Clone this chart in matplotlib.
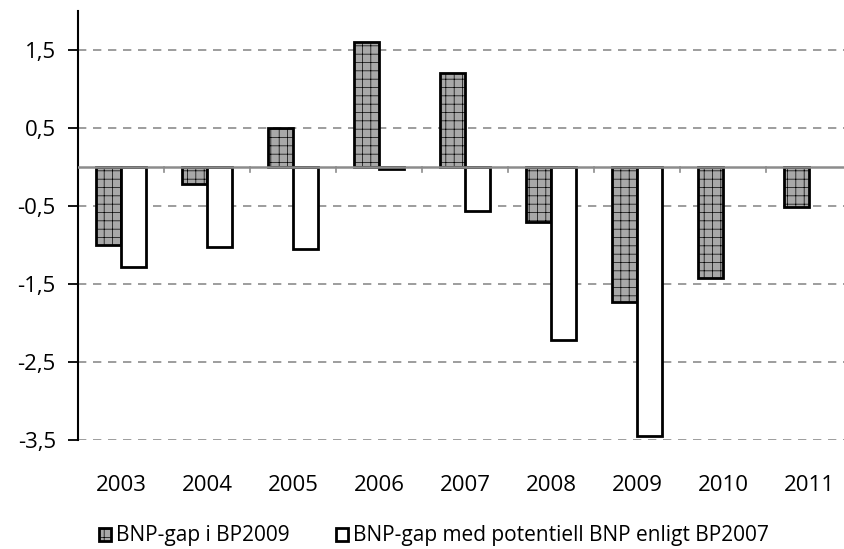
import matplotlib
matplotlib.use('Agg')
import matplotlib.pyplot as plt
import numpy as np

years = ['2003', '2004', '2005', '2006', '2007', '2008', '2009', '2010', '2011']
gap_bp2009 = [-1.0, -0.22, 0.5, 1.6, 1.2, -0.71, -1.73, -1.42, -0.51]
gap_bp2007 = [-1.28, -1.02, -1.05, -0.03, -0.57, -2.22, -3.45, np.nan, np.nan]
yticks = [1.5, 0.5, -0.5, -1.5, -2.5, -3.5]

plt.rcParams['font.family'] = ['Open Sans', 'DejaVu Sans']
plt.rcParams['hatch.linewidth'] = 0.5
plt.rcParams['hatch.color'] = '#303030'

fig = plt.figure(figsize=(8.45, 5.49), dpi=100)
ax = fig.add_axes([78 / 845, 109 / 549, 774 / 845, 429 / 549])

x = np.arange(len(years))
w = 0.29
ax.bar(x - w / 2, gap_bp2009, w, facecolor='#a8a8a8', edgecolor='black',
       hatch='++', linewidth=2.0, zorder=3, label='BNP-gap i BP2009')
ax.bar(x + w / 2, gap_bp2007, w, facecolor='white', edgecolor='black',
       linewidth=2.0, zorder=3, label='BNP-gap med potentiell BNP enligt BP2007')

ax.set_xlim(-0.5, len(years) - 0.5)
ax.set_ylim(-3.5, 2.0)

# dashed grid at the labelled values, solid zero line with category ticks
for yv in yticks:
    ax.axhline(yv, color='#8c8c8c', lw=1.2, ls=(0, (5, 4)), zorder=1)
ax.axhline(0, color='#8c8c8c', lw=1.8, zorder=4)
for b in np.arange(0.5, len(years) - 0.5, 1.0):
    ax.plot([b, b], [0, -0.07], color='#8c8c8c', lw=1.2, zorder=4)

for s in ['top', 'right', 'bottom']:
    ax.spines[s].set_visible(False)
ax.spines['left'].set_linewidth(1.5)

ax.set_yticks(yticks)
ax.set_yticklabels([('%.1f' % v).replace('.', ',') for v in yticks], fontsize=16)
ax.tick_params(axis='y', length=7, width=1.3, pad=9)

ax.set_xticks(x)
ax.set_xticklabels(years, fontsize=16)
ax.tick_params(axis='x', length=0, pad=25)

fig.legend(loc='center', bbox_to_anchor=(434 / 845, 1 - 536 / 549), ncol=2,
           frameon=False, fontsize=15, handlelength=0.6, handleheight=0.6,
           handletextpad=0.25, columnspacing=2.2)

fig.savefig('out.png', dpi=100)
